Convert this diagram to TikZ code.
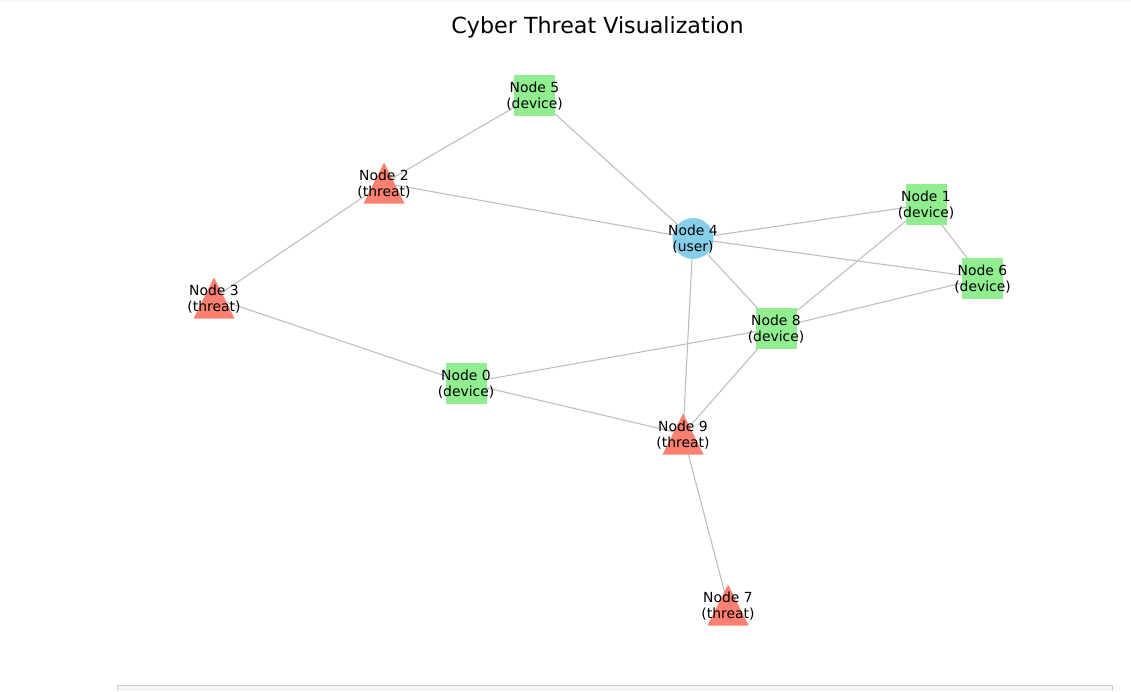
\documentclass[tikz,border=0pt]{standalone}
\usepackage{fontspec}
\setmainfont{DejaVu Sans}
\definecolor{devc}{HTML}{90EE90}
\definecolor{thrc}{HTML}{FA8072}
\definecolor{usrc}{HTML}{87CEEB}
\definecolor{edgec}{HTML}{BFBFBF}
\definecolor{barfill}{HTML}{F5F5F5}
\definecolor{barline}{HTML}{CCCCCC}
\tikzset{
  edge/.style={draw=edgec, line width=1.1pt},
  lbl/.style={align=center, inner sep=0pt, yshift=-1pt, font=\fontsize{13.9}{16.2}\selectfont},
  devbox/.style={fill=devc},
  thrtri/.style={fill=thrc},
  usrdot/.style={fill=usrc}
}
\begin{document}
\begin{tikzpicture}[x=1pt,y=-1pt]
\useasboundingbox (0,0) rectangle (1131,691);
\fill[white] (0,0) rectangle (1131,691);
% faint top shadow
\fill[black!3] (0,0) rectangle (1131,2);
% bottom panel
\fill[barfill] (117.5,685.5) rectangle (1112.5,691);
\draw[barline, line width=1pt] (117.5,691) -- (117.5,685.5) -- (1112.5,685.5) -- (1112.5,691);
% node centres
\coordinate (n0) at (466,383);
\coordinate (n1) at (926,204.5);
\coordinate (n2) at (384,183);
\coordinate (n3) at (214,298);
\coordinate (n4) at (693,238.5);
\coordinate (n5) at (534.5,95.5);
\coordinate (n6) at (982.5,278);
\coordinate (n7) at (728,605);
\coordinate (n8) at (776,328);
\coordinate (n9) at (683,434);
% edges
\draw[edge] (n5) -- (n2);
\draw[edge] (n5) -- (n4);
\draw[edge] (n2) -- (n4);
\draw[edge] (n2) -- (n3);
\draw[edge] (n3) -- (n0);
\draw[edge] (n0) -- (n8);
\draw[edge] (n0) -- (n9);
\draw[edge] (n4) -- (n1);
\draw[edge] (n4) -- (n6);
\draw[edge] (n4) -- (n8);
\draw[edge] (n4) -- (n9);
\draw[edge] (n1) -- (n6);
\draw[edge] (n1) -- (n8);
\draw[edge] (n8) -- (n6);
\draw[edge] (n8) -- (n9);
\draw[edge] (n9) -- (n7);
% markers
\foreach \n in {n0,n1,n5,n6,n8}{
  \fill[devbox] (\n) ++(-20.5,-20.5) rectangle ++(41,41);
}
\foreach \n in {n2,n3,n7,n9}{
  \fill[thrtri] (\n) ++(0,-20.5) -- ++(20.5,41) -- ++(-41,0) -- cycle;
}
\fill[usrdot] (n4) circle (20.5pt);
% labels
\node[lbl] (l0) at (n0) {Node 0\\(device)};
\node[lbl] (l1) at (n1) {Node 1\\(device)};
\node[lbl] (l2) at (n2) {Node 2\\(threat)};
\node[lbl] (l3) at (n3) {Node 3\\(threat)};
\node[lbl] (l4) at (n4) {Node 4\\(user)};
\node[lbl] (l5) at (n5) {Node 5\\(device)};
\node[lbl] (l6) at (n6) {Node 6\\(device)};
\node[lbl] (l7) at (n7) {Node 7\\(threat)};
\node[lbl] (l8) at (n8) {Node 8\\(device)};
\node[lbl] (l9) at (n9) {Node 9\\(threat)};
% title
\node[inner sep=0pt, font=\fontsize{22.2}{26}\selectfont] (title) at (597.5,27.5) {Cyber Threat Visualization};
\end{tikzpicture}
\end{document}
